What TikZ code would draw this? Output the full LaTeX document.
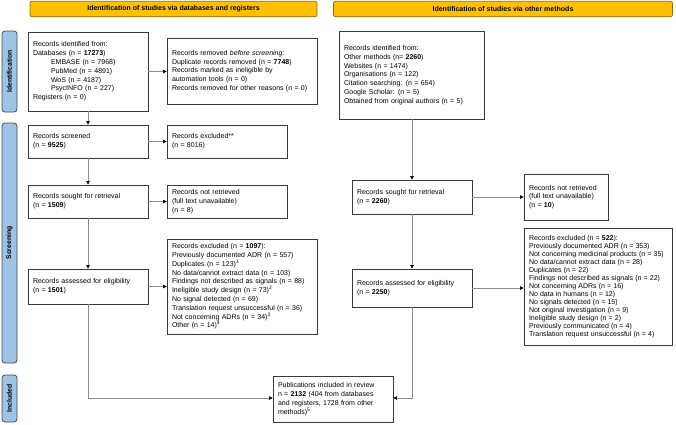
\documentclass[tikz,border=0pt]{standalone}
\usepackage{fontspec}
\setmainfont{Liberation Sans}
\usetikzlibrary{arrows.meta}
\definecolor{hdrfill}{HTML}{FFC000}
\definecolor{hdrdraw}{HTML}{8A6D1A}
\definecolor{sidefill}{HTML}{9DC3E6}
\definecolor{sidedraw}{HTML}{4A4A4A}
\definecolor{boxdraw}{HTML}{3A3A3A}
\definecolor{linec}{HTML}{8C8C8C}
\tikzset{
  hdr/.style={draw=hdrdraw, fill=hdrfill, rounded corners=2pt, line width=0.7pt, inner sep=0pt, font=\bfseries\fontsize{7}{8}\selectfont},
  side/.style={draw=sidedraw, fill=sidefill, rounded corners=3pt, line width=0.8pt, inner sep=0pt},
  sidetext/.style={rotate=90, font=\bfseries\fontsize{6.8}{8}\selectfont},
  box/.style={draw=boxdraw, fill=white, line width=0.8pt, inner xsep=5pt, inner ysep=2pt, align=left, font=\fontsize{7}{8.8}\selectfont},
  smallbox/.style={box, font=\fontsize{6.4}{8}\selectfont},
  conn/.style={draw=linec, line width=0.6pt, -{Triangle[length=3.5pt,width=3.5pt,color=black]}}
}
\begin{document}
\begin{tikzpicture}[x=1pt,y=-1pt]
\useasboundingbox (0,0) rectangle (676,424);
% headers
\node[hdr, minimum width=287, minimum height=15.5] (hL) at (173.5,9) {Identification of studies via databases and registers};
\node[hdr, minimum width=339, minimum height=15.5] (hR) at (503,9) {Identification of studies via other methods};
% side labels
\node[side, minimum width=15, minimum height=81] (sI) at (9.5,71.5) {};
\node[sidetext] (tI) at (sI.center) {Identification};
\node[side, minimum width=15, minimum height=240] (sS) at (9.5,243) {};
\node[sidetext] (tS) at (sS.center) {Screening};
\node[side, minimum width=15, minimum height=47] (sN) at (9.5,398.5) {};
\node[sidetext] (tN) at (sN.center) {Included};
% left column
\node[box, minimum width=120, minimum height=79, text width=110] (id1) at (88,71.5) {Records identified from:\\
Databases (n = \textbf{17273})\\
\hspace*{18pt}EMBASE (n = 7968)\\
\hspace*{18pt}PubMed (n = 4891)\\
\hspace*{18pt}WoS (n = 4187)\\
\hspace*{18pt}PsycINFO (n = 227)\\
Registers (n = 0)};
\node[box, minimum width=150, minimum height=66, text width=140] (rem) at (242,71) {Records removed \textit{before screening}:\\
Duplicate records removed (n = \textbf{7748})\\
Records marked as ineligible by\\
automation tools (n = 0)\\
Records removed for other reasons (n = 0)};
\node[box, minimum width=120, minimum height=33, text width=110] (scr) at (88,141.5) {Records screened\\(n = \textbf{9525})};
\node[box, minimum width=120, minimum height=33, text width=110] (exc) at (227,141.5) {Records excluded**\\(n = 8016)};
\node[box, minimum width=120, minimum height=33, text width=110] (ret) at (88,201.5) {Records sought for retrieval\\(n = \textbf{1509})};
\node[box, minimum width=120, minimum height=33, text width=110] (nret) at (227,201.5) {Records not retrieved\\(full text unavailable)\\(n = 8)};
\node[box, minimum width=120, minimum height=35, text width=110] (elig) at (88,286.5) {Records assessed for eligibility\\(n = \textbf{1501})};
\node[box, minimum width=150, minimum height=95, text width=140] (exc2) at (242,286.5) {Records excluded (n = \textbf{1097}):\\
Previously documented ADR (n = 557)\\
Duplicates (n = 123)\textsuperscript{1}\\
No data/cannot extract data (n = 103)\\
Findings not described as signals (n = 88)\\
Ineligible study design (n = 73)\textsuperscript{2}\\
No signal detected (n = 69)\\
Translation request unsuccessful (n = 36)\\
Not concerning ADRs (n = 34)\textsuperscript{3}\\
Other (n = 14)\textsuperscript{4}};
% right column
\node[box, minimum width=145, minimum height=88, text width=135] (idR) at (411.5,75) {Records identified from:\\
Other methods (n= \textbf{2260})\\
Websites (n = 1474)\\
Organisations (n = 122)\\
Citation searching: (n = 654)\\
Google Scholar: (n = 5)\\
Obtained from original authors (n = 5)};
\node[box, minimum width=120, minimum height=34, text width=110] (retR) at (412,197) {Records sought for retrieval\\(n = \textbf{2260})};
\node[box, minimum width=84, minimum height=46, text width=74] (nretR) at (566,197) {Records not retrieved\\(full text unavailable)\\(n = \textbf{10})};
\node[box, minimum width=120, minimum height=38, text width=110] (eligR) at (412,288) {Records assessed for eligibility\\(n = \textbf{2250})};
\node[smallbox, minimum width=148, minimum height=117, text width=138] (exc3) at (598,286.5) {\fontsize{7}{8}\selectfont Records excluded (n = \textbf{522}):\\
Previously documented ADR (n = 353)\\
Not concerning medicinal products (n = 35)\\
No data/cannot extract data (n = 28)\\
Duplicates (n = 22)\\
Findings not described as signals (n = 22)\\
Not concerning ADRs (n = 16)\\
No data in humans (n = 12)\\
No signals detected (n = 15)\\
Not original investigation (n = 9)\\
Ineligible study design (n = 2)\\
Previously communicated (n = 4)\\
Translation request unsuccessful (n = 4)};
% included
\node[box, minimum width=120, minimum height=46, text width=110] (inc) at (333,399) {Publications included in review\\
n = \textbf{2132} (404 from databases\\
and registers, 1728 from other\\
methods)\textsuperscript{5}};
% connectors
\draw[conn] (id1.south) -- (scr.north);
\draw[conn] (id1.east) -- (id1.east -| rem.west);
\draw[conn] (scr.east) -- (exc.west);
\draw[conn] (scr.south) -- (ret.north);
\draw[conn] (ret.east) -- (nret.west);
\draw[conn] (ret.south) -- (elig.north);
\draw[conn] (elig.east) -- (elig.east -| exc2.west);
\coordinate (cL) at (88,398);
\coordinate (cR) at (412,398);
\draw[conn] (elig.south) -- (cL) -- (cL -| inc.west);
\draw[conn] (retR.north |- idR.south) -- (retR.north);
\draw[conn] (retR.east) -- (retR.east -| nretR.west);
\draw[conn] (retR.south) -- (eligR.north);
\draw[conn] (eligR.east) -- (eligR.east -| exc3.west);
\draw[conn] (eligR.south) -- (cR) -- (cR -| inc.east);
\end{tikzpicture}
\end{document}
